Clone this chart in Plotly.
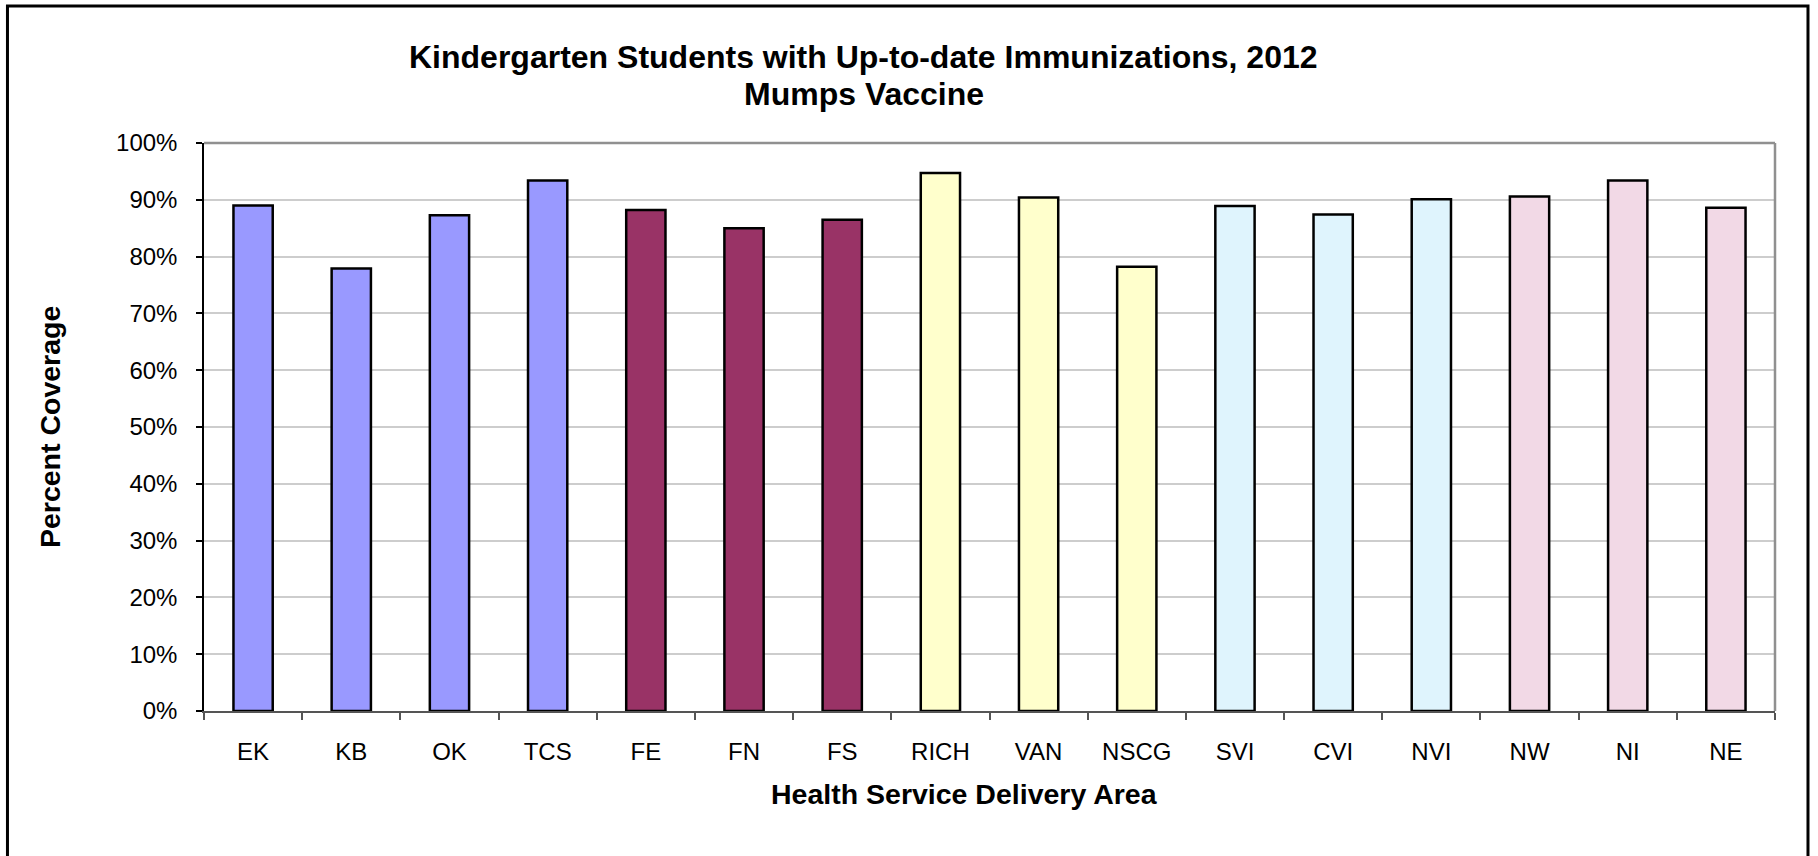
import plotly.graph_objects as go

# data
areas = ['EK', 'KB', 'OK', 'TCS', 'FE', 'FN', 'FS', 'RICH', 'VAN', 'NSCG',
         'SVI', 'CVI', 'NVI', 'NW', 'NI', 'NE']
coverage = [89.0, 77.9, 87.3, 93.4, 88.2, 85.0, 86.5, 94.7, 90.4, 78.2,
            88.9, 87.4, 90.1, 90.6, 93.4, 88.6]
health_authority = ['IH', 'IH', 'IH', 'IH', 'FH', 'FH', 'FH', 'VCH', 'VCH', 'VCH',
                    'VIHA', 'VIHA', 'VIHA', 'NH', 'NH', 'NH']
ha_colors = {'IH': '#9999FF', 'FH': '#993366', 'VCH': '#FFFFCC',
             'VIHA': '#DFF4FD', 'NH': '#F2D9E6'}
y_ticks = list(range(0, 101, 10))

bar_colors = [ha_colors[h] for h in health_authority]

fig = go.Figure(data=[go.Bar(
    x=areas,
    y=coverage,
    width=0.4,
    marker_color=bar_colors,
    marker_line_color='black',
    marker_line_width=2.5,
)])

fig.update_layout(
    width=1818,
    height=856,
    margin=dict(l=204, r=43, t=143, b=145),
    plot_bgcolor='white',
    paper_bgcolor='white',
    font=dict(family='Liberation Sans, Arial', color='black'),
    showlegend=False,
)

fig.update_yaxes(
    range=[0, 100],
    tickvals=y_ticks,
    ticktext=[f'{v}%' for v in y_ticks],
    tickfont=dict(size=24),
    ticks='outside', ticklen=6, tickwidth=1.5, tickcolor='black',
    ticklabelstandoff=14,
    showgrid=True, gridcolor='#CDCDCD', gridwidth=1.5,
    showline=True, linecolor='black', linewidth=1.5,
    zeroline=False,
)
fig.update_xaxes(
    tickfont=dict(size=24),
    ticks='outside', tickson='boundaries', ticklen=7, tickwidth=1.5, tickcolor='#555555',
    ticklabelstandoff=18,
    showline=True, linecolor='#555555', linewidth=2,
    showgrid=False,
)

# plot frame (top and right in grey), plus the outer chart border
fig.add_shape(type='line', xref='paper', yref='paper', x0=0, x1=1, y0=1, y1=1,
              line=dict(color='#909090', width=2.5))
fig.add_shape(type='line', xref='paper', yref='paper', x0=1, x1=1, y0=0, y1=1,
              line=dict(color='#909090', width=2.5))
fig.add_shape(type='rect', xref='paper', yref='paper',
              x0=-0.1251, x1=1.021, y0=-0.32, y1=1.2412,
              line=dict(color='black', width=3), layer='above')

# titles
fig.add_annotation(text='<b>Kindergarten Students with Up-to-date Immunizations, 2012</b>',
                   xref='paper', yref='paper', x=0.4201, y=1.1515,
                   xanchor='center', yanchor='middle', showarrow=False,
                   font=dict(size=32))
fig.add_annotation(text='<b>Mumps Vaccine</b>',
                   xref='paper', yref='paper', x=0.4201, y=1.0863,
                   xanchor='center', yanchor='middle', showarrow=False,
                   font=dict(size=32))
fig.add_annotation(text='<b>Health Service Delivery Area</b>',
                   xref='paper', yref='paper', x=0.4838, y=-0.1467,
                   xanchor='center', yanchor='middle', showarrow=False,
                   font=dict(size=28.5))
fig.add_annotation(text='<b>Percent Coverage</b>',
                   xref='paper', yref='paper', x=-0.098, y=0.5, textangle=-90,
                   xanchor='center', yanchor='middle', showarrow=False,
                   font=dict(size=28.5))

# drop the browser's default 8px page margin so the chart sits at the window origin
fig.write_html('out.html', config={'displayModeBar': False},
               post_script="document.body.style.margin='0';")
